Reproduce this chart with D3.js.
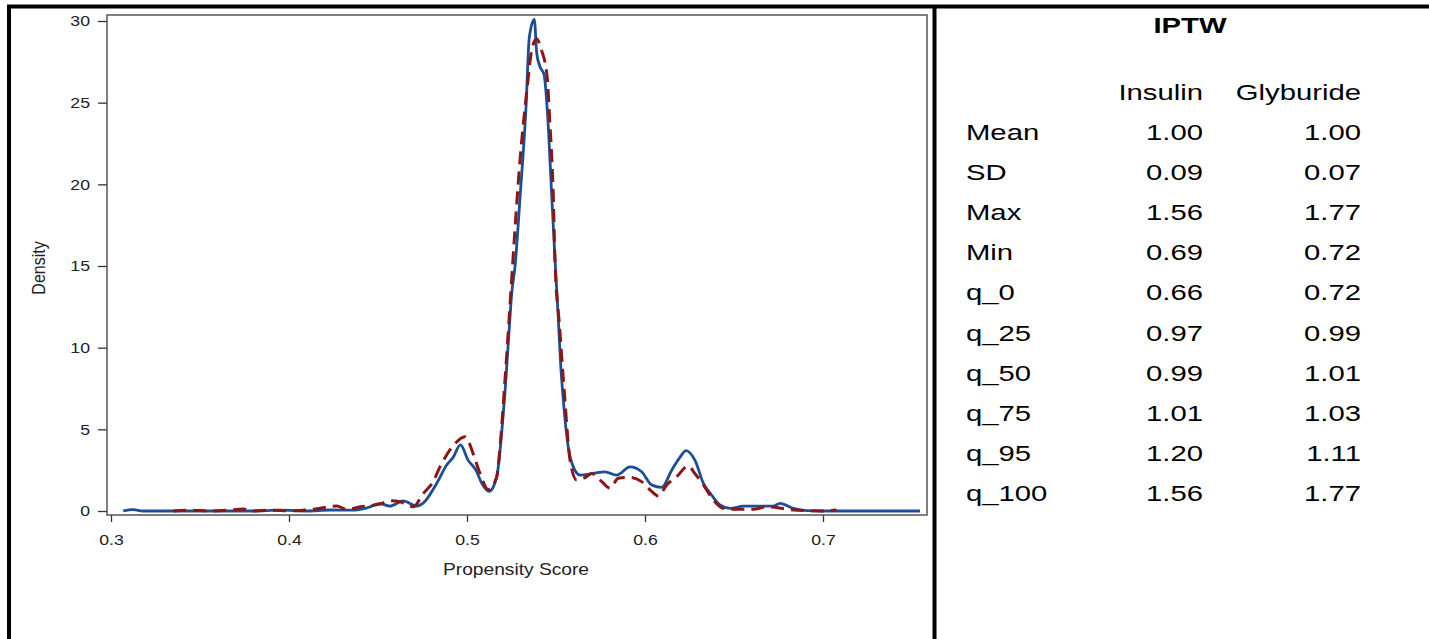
<!DOCTYPE html>
<html>
<head>
<meta charset="utf-8">
<script src="https://cdn.jsdelivr.net/npm/d3@7"></script>
<style>
  body { margin: 0; background: #fff; }
  text { font-family: "Liberation Sans", Arial, sans-serif; }
</style>
</head>
<body>
<div id="chart"></div>
<script>
// density curves
const insulinX = [0.3069, 0.3125, 0.318, 0.35, 0.38, 0.395, 0.41, 0.423, 0.436, 0.444, 0.451, 0.4567, 0.4642, 0.4717, 0.4755,
  0.483, 0.4885, 0.4923, 0.4963, 0.5007, 0.505, 0.5083, 0.5125, 0.5167, 0.5195, 0.5213, 0.5232, 0.5251, 0.527, 0.5298, 0.5331,
  0.535, 0.5378, 0.5392, 0.541, 0.5433, 0.5457, 0.5475, 0.5495, 0.5512, 0.5525, 0.5541, 0.5569, 0.5597, 0.5635, 0.571, 0.5775,
  0.5841, 0.5916, 0.5981, 0.6037, 0.6094, 0.615, 0.6197, 0.623, 0.6281, 0.6328, 0.6374, 0.6421, 0.6478, 0.6552, 0.6646, 0.672,
  0.6758, 0.6833, 0.691, 0.70, 0.7545];
const insulinY = [0.0, 0.08, 0.0, 0.0, 0.0, 0.05, 0.0, 0.06, 0.05, 0.2, 0.45, 0.3, 0.62, 0.3, 0.5,
  1.7, 2.8, 3.3, 4.05, 3.1, 2.5, 1.7, 1.2, 2.1, 4.8, 7.2, 10.3, 13.3, 15.0, 19.2, 24.6,
  29.0, 30.1, 28.0, 27.2, 26.7, 23.5, 19.5, 15.3, 12.0, 9.2, 6.8, 3.9, 2.7, 2.2, 2.3, 2.4,
  2.2, 2.7, 2.4, 1.6, 1.45, 2.5, 3.3, 3.7, 3.1, 1.7, 0.98, 0.37, 0.16, 0.3, 0.3, 0.3,
  0.47, 0.16, 0.02, 0.0, 0.0];

const glyburideX = [0.335, 0.345, 0.355, 0.365, 0.3744, 0.38, 0.39, 0.40, 0.4137, 0.4268, 0.4324, 0.44, 0.4511, 0.4567, 0.4624,
  0.4698, 0.4755, 0.481, 0.4848, 0.4923, 0.4989, 0.5035, 0.5073, 0.512, 0.5167, 0.519, 0.521, 0.5235, 0.5257, 0.5298, 0.5339,
  0.5365, 0.5391, 0.5419, 0.545, 0.5465, 0.5485, 0.5494, 0.552, 0.555, 0.5579, 0.5616, 0.5672, 0.57, 0.5757, 0.5803, 0.585,
  0.5916, 0.5981, 0.6028, 0.6075, 0.6122, 0.6178, 0.6243, 0.628, 0.6328, 0.6384, 0.644, 0.6515, 0.6609, 0.6684, 0.672, 0.68,
  0.69, 0.6994, 0.7076];
const glyburideY = [0.0, 0.05, 0.0, 0.05, 0.12, 0.0, 0.05, 0.02, 0.1, 0.3, 0.1, 0.26, 0.43, 0.63, 0.57,
  0.26, 1.08, 1.8, 2.7, 4.0, 4.55, 3.5, 2.3, 1.3, 2.1, 4.5, 7.5, 11.5, 15.2, 21.5, 26.0,
  28.3, 28.9, 28.2, 26.6, 23.9, 19.2, 15.4, 11.3, 6.8, 3.1, 1.9, 2.1, 2.3, 1.8, 1.4, 2.0,
  2.06, 1.8, 1.3, 0.92, 1.6, 2.1, 2.76, 2.3, 1.6, 0.67, 0.16, 0.1, 0.1, 0.26, 0.24, 0.1,
  0.02, 0.0, 0.06];

const xTicks = [0.3, 0.4, 0.5, 0.6, 0.7];
const yTicks = [0, 5, 10, 15, 20, 25, 30];

// IPTW summary table
const tableTitle = "IPTW";
const groups = ["Insulin", "Glyburide"];
const statNames = ["Mean", "SD", "Max", "Min", "q_0", "q_25", "q_50", "q_75", "q_95", "q_100"];
const insulinStats = ["1.00", "0.09", "1.56", "0.69", "0.66", "0.97", "0.99", "1.01", "1.20", "1.56"];
const glyburideStats = ["1.00", "0.07", "1.77", "0.72", "0.72", "0.99", "1.01", "1.03", "1.11", "1.77"];

const W = 1429, H = 639;
const FRAME = { left: 107, right: 927, top: 15, bottom: 515 };
const TICK_SX = 1.18;  // the source picture is stretched sideways
const LABEL_SX = 1.2;
const TABLE_SX = 1.33;

const svg = d3.select("#chart").append("svg")
  .attr("width", W)
  .attr("height", H);

// outer borders
svg.append("line").attr("x1", 7).attr("x2", W).attr("y1", 6.5).attr("y2", 6.5)
  .attr("stroke", "#000").attr("stroke-width", 4);
svg.append("line").attr("x1", 9).attr("x2", 9).attr("y1", 5).attr("y2", H)
  .attr("stroke", "#000").attr("stroke-width", 4);
svg.append("line").attr("x1", 934.5).attr("x2", 934.5).attr("y1", 5).attr("y2", H)
  .attr("stroke", "#000").attr("stroke-width", 4);

const x = d3.scaleLinear().domain([0.3, 0.4]).range([111, 289]);
const y = d3.scaleLinear().domain([0, 30]).range([511, 21]);

// axes
const xAxis = svg.append("g")
  .attr("transform", `translate(0, ${FRAME.bottom})`)
  .call(d3.axisBottom(x).tickValues(xTicks).tickFormat(d3.format(".1f")).tickSize(7).tickPadding(12).tickSizeOuter(0));
const yAxis = svg.append("g")
  .attr("transform", `translate(${FRAME.left}, 0)`)
  .call(d3.axisLeft(y).tickValues(yTicks).tickSize(9).tickPadding(6).tickSizeOuter(0));
[xAxis, yAxis].forEach(g => {
  g.select(".domain").remove();
  g.selectAll(".tick line").attr("stroke", "#333").attr("stroke-width", 1.3);
  g.selectAll(".tick text").attr("fill", "#222").style("font-size", "15px")
    .attr("transform", `scale(${TICK_SX},1)`);
});
yAxis.selectAll(".tick text").attr("x", -17 / TICK_SX);

// plot frame
svg.append("rect")
  .attr("x", FRAME.left).attr("y", FRAME.top)
  .attr("width", FRAME.right - FRAME.left).attr("height", FRAME.bottom - FRAME.top)
  .attr("fill", "none").attr("stroke", "#555").attr("stroke-width", 1.5);

// axis labels
svg.append("text")
  .attr("transform", `translate(${(FRAME.left + FRAME.right) / 2 - 1}, 575) scale(${LABEL_SX},1)`)
  .attr("text-anchor", "middle").attr("fill", "#222").style("font-size", "16px")
  .text("Propensity Score");
svg.append("text")
  .attr("transform", `translate(45, ${(FRAME.top + FRAME.bottom) / 2 + 3}) rotate(-90) scale(1,${LABEL_SX})`)
  .attr("text-anchor", "middle").attr("fill", "#222").style("font-size", "16px")
  .text("Density");

// curves
const line = d3.line().curve(d3.curveMonotoneX)
  .x(d => x(d[0])).y(d => y(d[1]));
svg.append("path")
  .datum(d3.zip(insulinX, insulinY))
  .attr("d", line)
  .attr("fill", "none").attr("stroke", "#1c4e96").attr("stroke-width", 2.8)
  .attr("stroke-linejoin", "round");
svg.append("path")
  .datum(d3.zip(glyburideX, glyburideY))
  .attr("d", line)
  .attr("fill", "none").attr("stroke", "#8b1616").attr("stroke-width", 3)
  .attr("stroke-dasharray", "13,7");

// table
const tbl = svg.append("g");
tbl.append("text")
  .attr("transform", `translate(1190, 33) scale(${TABLE_SX},1)`)
  .attr("text-anchor", "middle").style("font-size", "22px").style("font-weight", "bold")
  .text(tableTitle);
const colRight = [1203, 1361];
groups.forEach((g, i) => {
  tbl.append("text")
    .attr("transform", `translate(${colRight[i]}, 100) scale(${TABLE_SX},1)`)
    .attr("text-anchor", "end").style("font-size", "22px")
    .text(g);
});
const rowY = d3.scalePoint().domain(statNames).range([140, 501]);
statNames.forEach((s, i) => {
  tbl.append("text")
    .attr("transform", `translate(966, ${rowY(s)}) scale(${TABLE_SX},1)`)
    .style("font-size", "22px").text(s);
  tbl.append("text")
    .attr("transform", `translate(${colRight[0]}, ${rowY(s)}) scale(${TABLE_SX},1)`)
    .attr("text-anchor", "end").style("font-size", "22px").text(insulinStats[i]);
  tbl.append("text")
    .attr("transform", `translate(${colRight[1]}, ${rowY(s)}) scale(${TABLE_SX},1)`)
    .attr("text-anchor", "end").style("font-size", "22px").text(glyburideStats[i]);
});
</script>
</body>
</html>
